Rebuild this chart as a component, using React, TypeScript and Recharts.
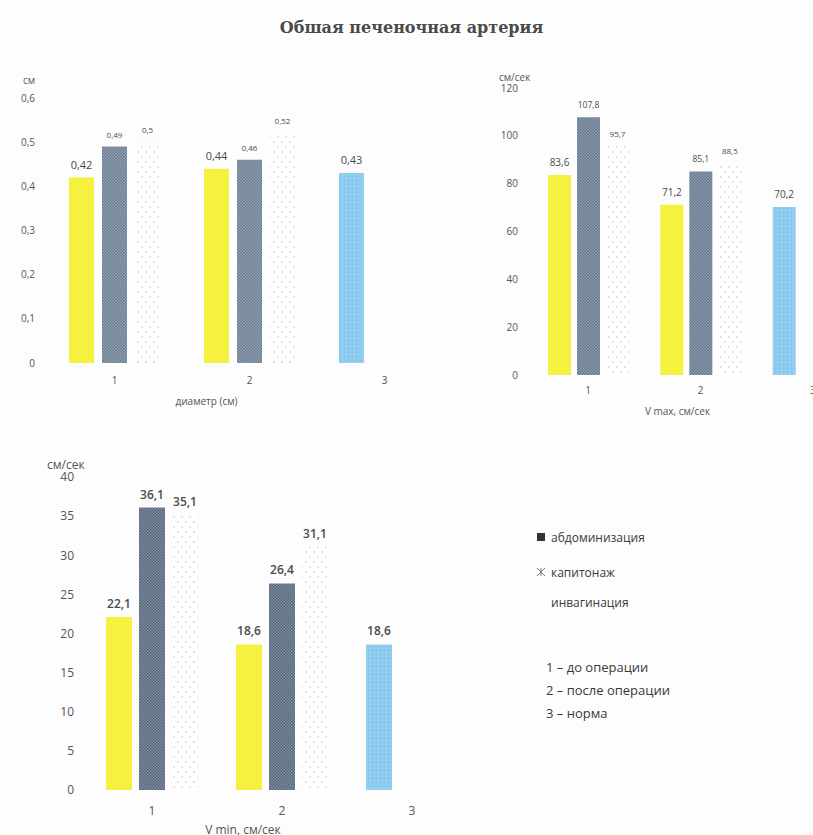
import { BarChart, Bar, XAxis, YAxis, Cell, LabelList } from "recharts";

// categories: 1 – before surgery, 2 – after surgery, 3 – norm
const categories = ["1", "2", "3"];

// diameter, cm
const diameterFirst = [0.42, 0.44, 0.43];
const diameterSecond = [0.49, 0.46, null];
const diameterThird = [0.5, 0.52, null];
const diameterTicks = [0, 0.1, 0.2, 0.3, 0.4, 0.5, 0.6];

// V max, cm/s
const vmaxFirst = [83.6, 71.2, 70.2];
const vmaxSecond = [107.8, 85.1, null];
const vmaxThird = [95.7, 88.5, null];
const vmaxTicks = [0, 20, 40, 60, 80, 100, 120];

// V min, cm/s
const vminFirst = [22.1, 18.6, 18.6];
const vminSecond = [36.1, 26.4, null];
const vminThird = [35.1, 31.1, null];
const vminTicks = [0, 5, 10, 15, 20, 25, 30, 35, 40];

const legendSeries = ["абдоминизация", "капитонаж", "инвагинация"];
const legendNotes = ["1 – до операции", "2 – после операции", "3 – норма"];

const FONT = "'Open Sans', 'DejaVu Sans', sans-serif";
const YELLOW = "#f6f13e";
const BLUE = "#8ecdf0";

const toComma = (v: any) => (v == null ? "" : String(v).replace(".", ","));

function buildRows(a: (number | null)[], b: (number | null)[], c: (number | null)[]) {
  return categories.map((name, i) => ({ name, a: a[i], b: b[i], c: c[i] }));
}

interface PanelProps {
  id: string;
  rows: any[];
  ticks: number[];
  left: number;
  top: number;
  width: number;
  height: number;
  margin: { top: number; right: number; left: number; bottom: number };
  yAxisWidth: number;
  xAxisHeight: number;
  yTickMargin: number;
  xTickMargin: number;
  tickSize: number;
  barSize: number;
  barGap: number;
  labelSizes: number[];
  hatchColors: [string, string];
  axisTitle: string;
  titleDx: number;
  titleOffset: number;
}

function Panel(p: PanelProps) {
  const hatch = `${p.id}-hatch`;
  const dots = `${p.id}-dots`;
  const sky = `${p.id}-sky`;
  const labelStyle = (size: number) => ({
    fontSize: size,
    fill: "#4a4a4a",
    fontFamily: FONT,
    fontWeight: p.labelSizes[0] >= 12 ? 600 : 400,
  });
  return (
    <div style={{ position: "absolute", left: p.left, top: p.top }}>
      <BarChart
        width={p.width}
        height={p.height}
        data={p.rows}
        margin={p.margin}
        barGap={p.barGap}
      >
        <defs>
          <pattern id={hatch} width="3" height="3" patternUnits="userSpaceOnUse">
            <rect width="3" height="3" fill={p.hatchColors[0]} />
            <rect width="1.5" height="1.5" fill={p.hatchColors[1]} />
            <rect x="1.5" y="1.5" width="1.5" height="1.5" fill={p.hatchColors[1]} />
          </pattern>
          <pattern id={dots} width="8" height="10" patternUnits="userSpaceOnUse">
            <rect width="8" height="10" fill="#ffffff" />
            <circle cx="2" cy="2" r="0.8" fill="#b5b5b5" />
            <circle cx="6" cy="7" r="0.8" fill="#c5c5c5" />
          </pattern>
          <pattern id={sky} width="4" height="4" patternUnits="userSpaceOnUse">
            <rect width="4" height="4" fill={BLUE} />
            <rect width="1" height="1" fill="#7dbde3" />
            <rect x="2" y="2" width="1" height="1" fill="#a2d7f3" />
          </pattern>
        </defs>
        <XAxis
          dataKey="name"
          axisLine={false}
          tickLine={false}
          height={p.xAxisHeight}
          tickMargin={p.xTickMargin}
          tick={{ fontSize: p.tickSize, fill: "#555", fontFamily: FONT }}
          label={{
            value: p.axisTitle,
            position: "insideBottom",
            offset: p.titleOffset,
            dx: p.titleDx,
            style: { fontSize: p.tickSize, fill: "#555", fontFamily: FONT },
          }}
        />
        <YAxis
          domain={[0, p.ticks[p.ticks.length - 1]]}
          ticks={p.ticks}
          interval={0}
          axisLine={false}
          tickLine={false}
          width={p.yAxisWidth}
          tickMargin={p.yTickMargin}
          tickFormatter={toComma}
          tick={{ fontSize: p.tickSize, fill: "#555", fontFamily: FONT }}
        />
        <Bar dataKey="a" barSize={p.barSize} isAnimationActive={false}>
          {p.rows.map((r, i) => (
            <Cell key={r.name} fill={i === 2 ? `url(#${sky})` : YELLOW} />
          ))}
          <LabelList
            dataKey="a"
            position="top"
            offset={9}
            formatter={toComma}
            style={labelStyle(p.labelSizes[0])}
          />
        </Bar>
        <Bar dataKey="b" barSize={p.barSize} fill={`url(#${hatch})`} isAnimationActive={false}>
          <LabelList
            dataKey="b"
            position="top"
            offset={9}
            formatter={toComma}
            style={labelStyle(p.labelSizes[1])}
          />
        </Bar>
        <Bar dataKey="c" barSize={p.barSize} fill={`url(#${dots})`} isAnimationActive={false}>
          <LabelList
            dataKey="c"
            position="top"
            offset={9}
            formatter={toComma}
            style={labelStyle(p.labelSizes[2])}
          />
        </Bar>
      </BarChart>
    </div>
  );
}

const unitStyle = (left: number, top: number, size: number): React.CSSProperties => ({
  position: "absolute",
  left,
  top,
  fontFamily: FONT,
  fontSize: size,
  color: "#555",
  lineHeight: 1,
});

export default function App() {
  return (
    <div
      style={{
        position: "fixed",
        left: 0,
        top: 0,
        width: 813,
        height: 835,
        overflow: "hidden",
        background: "#fdfdfd",
      }}
    >
      <div
        style={{
          position: "absolute",
          left: 0,
          top: 18,
          width: 823,
          textAlign: "center",
          fontFamily: "'DejaVu Serif', 'Liberation Serif', serif",
          fontSize: 16,
          fontWeight: 700,
          color: "#4a4a4a",
        }}
      >
        Обшая печеночная артерия
      </div>

      <Panel
        id="diam"
        rows={buildRows(diameterFirst, diameterSecond, diameterThird)}
        ticks={diameterTicks}
        left={0}
        top={60}
        width={460}
        height={360}
        margin={{ top: 38, right: 8, left: 7, bottom: 7 }}
        yAxisWidth={40}
        xAxisHeight={50}
        yTickMargin={6}
        xTickMargin={8}
        tickSize={10}
        barSize={25}
        barGap={8}
        labelSizes={[11, 8, 8]}
        hatchColors={["#93a3b6", "#6a7a8e"]}
        axisTitle="диаметр (см)"
        titleDx={-43}
        titleOffset={8}
      />
      <div style={unitStyle(23, 75, 10)}>см</div>

      <Panel
        id="vmax"
        rows={buildRows(vmaxFirst, vmaxSecond, vmaxThird)}
        ticks={vmaxTicks}
        left={475}
        top={60}
        width={400}
        height={380}
        margin={{ top: 28, right: 6, left: 12, bottom: 20 }}
        yAxisWidth={45}
        xAxisHeight={45}
        yTickMargin={8}
        xTickMargin={6}
        tickSize={10}
        barSize={23}
        barGap={6}
        labelSizes={[10, 8.5, 8]}
        hatchColors={["#8d9eb2", "#65748a"]}
        axisTitle="V max, см/сек"
        titleDx={-23}
        titleOffset={5}
      />
      <div style={unitStyle(499, 72, 10)}>см/сек</div>

      <Panel
        id="vmin"
        rows={buildRows(vminFirst, vminSecond, vminThird)}
        ticks={vminTicks}
        left={0}
        top={430}
        width={490}
        height={415}
        margin={{ top: 47, right: 13, left: 37, bottom: 0 }}
        yAxisWidth={50}
        xAxisHeight={55}
        yTickMargin={7}
        xTickMargin={10}
        tickSize={12}
        barSize={26}
        barGap={7}
        labelSizes={[12, 12, 12]}
        hatchColors={["#7f90a4", "#556377"]}
        axisTitle="V min, см/сек"
        titleDx={-39}
        titleOffset={11}
      />
      <div style={unitStyle(47, 459, 12)}>см/сек</div>

      <div
        style={{
          position: "absolute",
          left: 536,
          top: 527,
          fontFamily: FONT,
          fontSize: 12,
          color: "#3a3a3a",
        }}
      >
        {legendSeries.map((s, i) => (
          <div key={s} style={{ display: "flex", alignItems: "center", height: 20, marginBottom: [15, 10, 0][i] }}>
            <svg width={10} height={10} style={{ marginRight: 5 }}>
              {i === 0 && <rect x={1} y={1} width={8} height={8} fill="#333" />}
              {i === 1 && (
                <g stroke="#777" strokeWidth={1}>
                  <line x1={1} y1={1} x2={9} y2={9} />
                  <line x1={9} y1={1} x2={1} y2={9} />
                  <line x1={5} y1={1} x2={5} y2={9} />
                </g>
              )}
            </svg>
            <span>{s}</span>
          </div>
        ))}
      </div>

      <div
        style={{
          position: "absolute",
          left: 546,
          top: 656,
          fontFamily: FONT,
          fontSize: 13,
          color: "#3a3a3a",
          lineHeight: "23px",
        }}
      >
        {legendNotes.map((n) => (
          <div key={n}>{n}</div>
        ))}
      </div>
    </div>
  );
}
